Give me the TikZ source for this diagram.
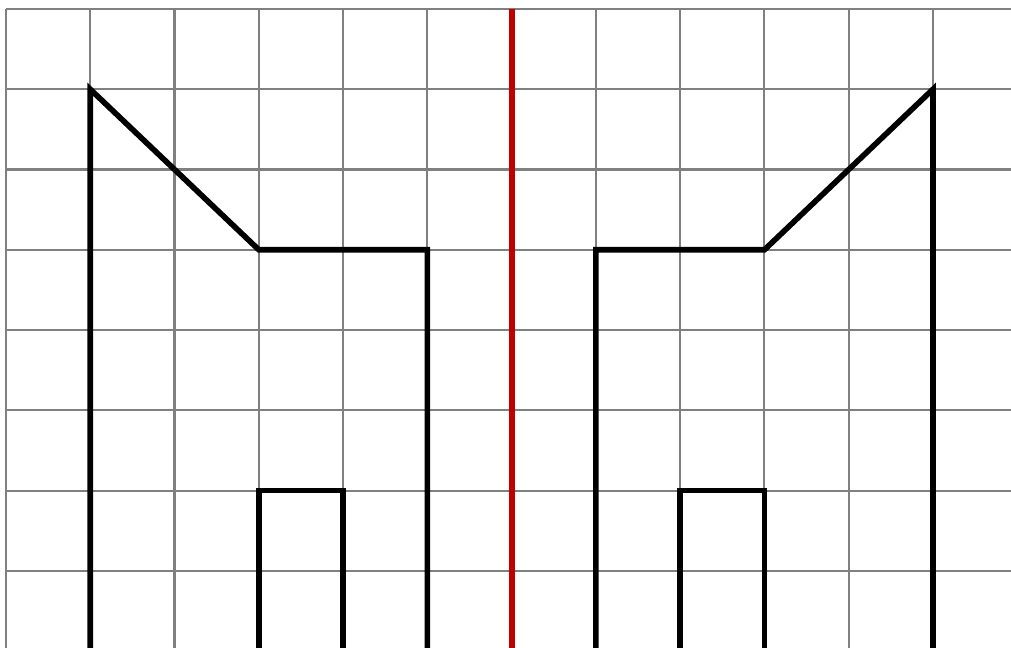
\documentclass[tikz,border=0pt]{standalone}
\usepackage{tikz}
\definecolor{axisred}{RGB}{192,0,0}

\begin{document}
\begin{tikzpicture}[x=1cm,y=0.9525cm,line join=miter]
  \useasboundingbox (-0.071,0.042) rectangle (11.926,8.112);
  \clip (-0.071,0.042) rectangle (11.926,8.112);
  % grid
  \foreach \i in {0,...,11}
    \draw[gray,line width=0.7pt] (\i,-0.5)--(\i,8);
  \foreach \j in {0,...,8}
    \draw[gray,line width=0.7pt] (0,\j)--(12.5,\j);
  % mirror axis
  \draw[axisred,line width=2.1pt] (6,-0.5)--(6,8);
  % left figure
  \begin{scope}[line width=1.9pt]
    \draw (1,-0.5)--(1,7)--(2,6);
    \draw (2,6)--(3,5)--(5,5)--(5,-0.5);
    \draw (3,-0.5)--(3,2)--(4,2)--(4,-0.5);
  \end{scope}
  % right figure
  \begin{scope}[line width=1.9pt]
    \draw (11,-0.5)--(11,7)--(10,6);
    \draw (10,6)--(9,5)--(7,5)--(7,-0.5);
    \draw (8,-0.5)--(8,2)--(9,2)--(9,-0.5);
  \end{scope}
\end{tikzpicture}
\end{document}
